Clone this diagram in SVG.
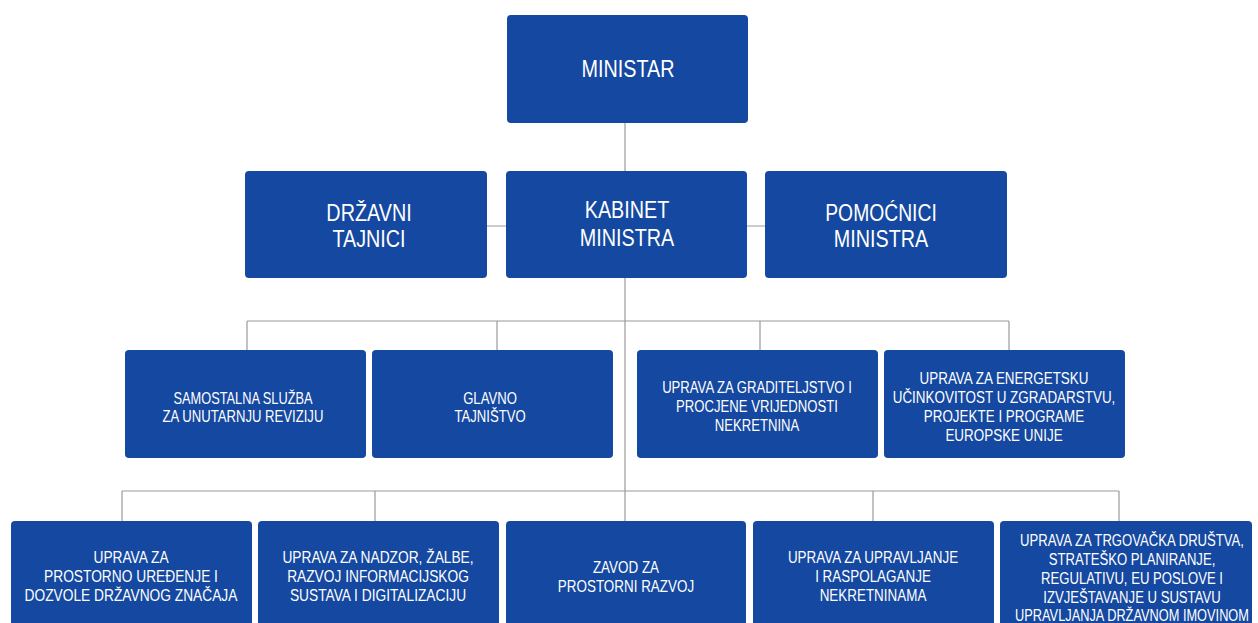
<svg xmlns="http://www.w3.org/2000/svg" width="1258" height="623" viewBox="0 0 1258 623">
<style>
.box{fill:#1548a0;}
.t{fill:#ffffff;font-family:"Liberation Sans",Arial,sans-serif;text-anchor:middle;}
.big{font-size:23px;}
.m{font-size:16px;}
.sm{font-size:16px;}
.c{stroke:#9a9a9a;stroke-width:1.2;fill:none;}
</style>
<rect width="1258" height="623" fill="#ffffff"/>
<g id="connectors">
<path class="c" d="M625,123 V521"/>
<path class="c" d="M487,226 H765"/>
<path class="c" d="M247,321 H1009 M247,321 V350 M497,321 V350 M760,321 V350 M1009,321 V350"/>
<path class="c" d="M122,491 H1119 M122,491 V521 M375,491 V521 M873,491 V521 M1119,491 V521"/>
</g>
<g id="ministar"><rect class="box" x="507" y="15" width="241" height="108" rx="4"/><text class="t big" transform="matrix(0.86 0 0 1 628 0)" y="77">MINISTAR</text></g>
<g id="drzavni-tajnici"><rect class="box" x="245" y="171" width="242" height="107" rx="4"/><text class="t big" transform="matrix(0.86 0 0 1 369 0)" y="221">DRŽAVNI</text><text class="t big" transform="matrix(0.86 0 0 1 369 0)" y="247">TAJNICI</text></g>
<g id="kabinet-ministra"><rect class="box" x="506" y="171" width="241" height="107" rx="4"/><text class="t big" transform="matrix(0.86 0 0 1 627 0)" y="218">KABINET</text><text class="t big" transform="matrix(0.86 0 0 1 627 0)" y="246">MINISTRA</text></g>
<g id="pomocnici-ministra"><rect class="box" x="765" y="171" width="242" height="107" rx="4"/><text class="t big" transform="matrix(0.84 0 0 1 881 0)" y="221">POMOĆNICI</text><text class="t big" transform="matrix(0.86 0 0 1 881 0)" y="247">MINISTRA</text></g>
<g id="samostalna-sluzba"><rect class="box" x="125" y="350" width="241" height="108" rx="4"/><text class="t m" transform="matrix(0.8 0 0 1 243 0)" y="404">SAMOSTALNA SLUŽBA</text><text class="t m" transform="matrix(0.82 0 0 1 243 0)" y="422">ZA UNUTARNJU REVIZIJU</text></g>
<g id="glavno-tajnistvo"><rect class="box" x="372" y="350" width="241" height="108" rx="4"/><text class="t m" transform="matrix(0.82 0 0 1 490 0)" y="404">GLAVNO</text><text class="t m" transform="matrix(0.82 0 0 1 490 0)" y="422">TAJNIŠTVO</text></g>
<g id="uprava-graditeljstvo"><rect class="box" x="637" y="350" width="241" height="108" rx="4"/><text class="t m" transform="matrix(0.82 0 0 1 757 0)" y="393">UPRAVA ZA GRADITELJSTVO I</text><text class="t m" transform="matrix(0.82 0 0 1 757 0)" y="412">PROCJENE VRIJEDNOSTI</text><text class="t m" transform="matrix(0.82 0 0 1 757 0)" y="431">NEKRETNINA</text></g>
<g id="uprava-energetska"><rect class="box" x="884" y="350" width="241" height="108" rx="4"/><text class="t m" transform="matrix(0.84 0 0 1 1004 0)" y="384">UPRAVA ZA ENERGETSKU</text><text class="t m" transform="matrix(0.84 0 0 1 1004 0)" y="403">UČINKOVITOST U ZGRADARSTVU,</text><text class="t m" transform="matrix(0.84 0 0 1 1004 0)" y="422">PROJEKTE I PROGRAME</text><text class="t m" transform="matrix(0.84 0 0 1 1004 0)" y="441">EUROPSKE UNIJE</text></g>
<g id="uprava-prostorno"><rect class="box" x="11" y="521" width="241" height="110" rx="4"/><text class="t sm" transform="matrix(0.86 0 0 1 131 0)" y="563">UPRAVA ZA</text><text class="t sm" transform="matrix(0.86 0 0 1 131 0)" y="582">PROSTORNO UREĐENJE I</text><text class="t sm" transform="matrix(0.86 0 0 1 131 0)" y="601">DOZVOLE DRŽAVNOG ZNAČAJA</text></g>
<g id="uprava-nadzor"><rect class="box" x="258" y="521" width="241" height="110" rx="4"/><text class="t sm" transform="matrix(0.86 0 0 1 378 0)" y="563">UPRAVA ZA NADZOR, ŽALBE,</text><text class="t sm" transform="matrix(0.86 0 0 1 378 0)" y="582">RAZVOJ INFORMACIJSKOG</text><text class="t sm" transform="matrix(0.86 0 0 1 378 0)" y="601">SUSTAVA I DIGITALIZACIJU</text></g>
<g id="zavod"><rect class="box" x="506" y="521" width="240" height="110" rx="4"/><text class="t sm" transform="matrix(0.84 0 0 1 626 0)" y="573">ZAVOD ZA</text><text class="t sm" transform="matrix(0.84 0 0 1 626 0)" y="592">PROSTORNI RAZVOJ</text></g>
<g id="uprava-upravljanje"><rect class="box" x="753" y="521" width="241" height="110" rx="4"/><text class="t sm" transform="matrix(0.84 0 0 1 873 0)" y="563">UPRAVA ZA UPRAVLJANJE</text><text class="t sm" transform="matrix(0.84 0 0 1 873 0)" y="582">I RASPOLAGANJE</text><text class="t sm" transform="matrix(0.84 0 0 1 873 0)" y="601">NEKRETNINAMA</text></g>
<g id="uprava-trgovacka"><rect class="box" x="1000" y="521" width="252" height="110" rx="4"/><text class="t sm" transform="matrix(0.82 0 0 1 1132 0)" y="546">UPRAVA ZA TRGOVAČKA DRUŠTVA,</text><text class="t sm" transform="matrix(0.82 0 0 1 1132 0)" y="565">STRATEŠKO PLANIRANJE,</text><text class="t sm" transform="matrix(0.82 0 0 1 1132 0)" y="584">REGULATIVU, EU POSLOVE I</text><text class="t sm" transform="matrix(0.82 0 0 1 1132 0)" y="603">IZVJEŠTAVANJE U SUSTAVU</text><text class="t sm" transform="matrix(0.8 0 0 1 1132 0)" y="621">UPRAVLJANJA DRŽAVNOM IMOVINOM</text></g>
</svg>
